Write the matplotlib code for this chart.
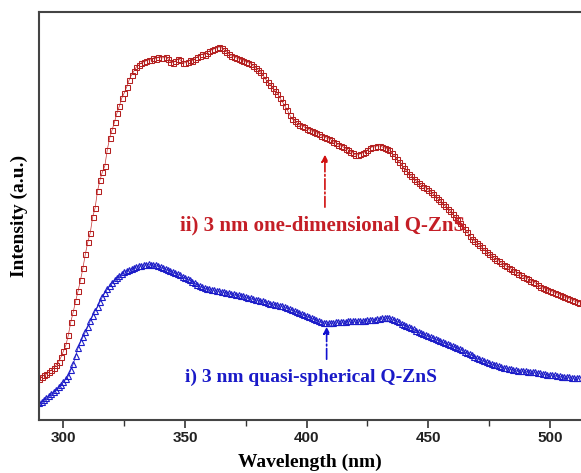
import matplotlib
matplotlib.use("Agg")
import matplotlib.pyplot as plt
from matplotlib.ticker import MultipleLocator
import numpy as np

# red: 3 nm one-dimensional Q-ZnS, 1 nm steps 290..512
wl_red = np.arange(290, 513, 1)
red = [41, 43, 45, 46, 48, 50, 52, 55, 58, 63,
       69, 75, 85, 98, 108, 119, 129, 140, 152, 166,
       178, 187, 203, 212, 229, 240, 248, 254, 270, 282,
       290, 298, 307, 314, 322, 327, 333, 340, 345, 349,
       353, 355, 357, 358, 359, 360, 360, 362, 361, 363,
       362, 362, 363, 361, 358, 357, 359, 361, 360, 357,
       357, 358, 360, 359, 361, 363, 364, 366, 365, 367,
       369, 370, 371, 372, 373, 372, 370, 368, 366, 364,
       363, 362, 361, 360, 359, 358, 357, 356, 354, 352,
       350, 348, 345, 341, 338, 335, 332, 329, 326, 322,
       318, 314, 310, 305, 301, 299, 297, 295, 294, 293,
       291, 290, 289, 288, 287, 286, 284, 283, 282, 281,
       280, 278, 277, 275, 274, 273, 271, 270, 268, 267,
       265, 265, 266, 267, 268, 270, 272, 273, 273, 274,
       274, 273, 272, 271, 270, 267, 264, 261, 258, 255,
       252, 249, 246, 244, 241, 239, 237, 235, 233, 232,
       230, 228, 226, 223, 221, 219, 216, 214, 211, 209,
       206, 203, 200, 197, 194, 191, 188, 184, 181, 179,
       177, 175, 173, 170, 168, 166, 164, 162, 160, 159,
       157, 155, 154, 152, 151, 149, 148, 146, 145, 143,
       142, 141, 139, 138, 137, 135, 133, 132, 131, 130,
       129, 128, 127, 126, 125, 124, 123, 122, 121, 120,
       119, 118, 117]

# blue: 3 nm quasi-spherical Q-ZnS, 1 nm steps 290..512
wl_blue = np.arange(290, 513, 1)
blue = [17, 18, 20, 22, 24, 26, 28, 30, 33, 35,
        38, 41, 44, 50, 56, 64, 72, 78, 83, 88,
        93, 99, 104, 109, 113, 118, 123, 127, 131, 134,
        137, 140, 142, 144, 146, 148, 149, 150, 151, 152,
        153, 154, 154, 155, 155, 156, 155, 155, 155, 154,
        153, 152, 151, 150, 149, 148, 147, 146, 145, 143,
        142, 141, 140, 138, 137, 135, 134, 133, 132, 131,
        131, 130, 130, 129, 129, 128, 128, 127, 127, 126,
        126, 125, 125, 124, 124, 123, 122, 122, 121, 120,
        120, 119, 119, 118, 117, 116, 116, 115, 115, 114,
        114, 113, 112, 111, 110, 109, 108, 107, 106, 105,
        104, 103, 102, 101, 100, 99, 98, 97, 97, 97,
        97, 97, 98, 98, 98, 98, 98, 99, 99, 99,
        99, 99, 99, 99, 99, 100, 100, 100, 100, 101,
        101, 102, 102, 102, 102, 101, 100, 99, 98, 96,
        95, 94, 93, 92, 91, 89, 88, 87, 86, 85,
        84, 83, 82, 81, 80, 79, 78, 77, 76, 75,
        74, 73, 72, 71, 70, 68, 67, 66, 65, 63,
        62, 61, 60, 59, 58, 57, 56, 55, 55, 54,
        53, 52, 52, 51, 51, 50, 50, 49, 49, 49,
        49, 48, 48, 48, 48, 47, 47, 46, 46, 45,
        45, 45, 45, 44, 44, 43, 43, 43, 43, 42,
        42, 42, 42]

xticks = [300, 350, 400, 450, 500]

fig = plt.figure(figsize=(5.81, 4.73), dpi=100)
ax = fig.add_axes([0.067, 0.112, 0.933, 0.863])

ax.plot(wl_red, red, '-', color='#c83030', lw=0.5, marker='s', ms=3.6,
        mfc='none', mec='#b42020', mew=0.75)
ax.plot(wl_blue, blue, '-', color='#2020c0', lw=0.5, marker='^', ms=4,
        mfc='none', mec='#1c1cc8', mew=0.8)

ax.set_xlim(289.9, 512.8)
ax.set_ylim(0, 408)
ax.set_xticks(xticks)
ax.xaxis.set_minor_locator(MultipleLocator(25))
ax.set_yticks([])
ax.tick_params(axis='x', which='major', direction='out', length=6, width=1.2,
               color='#333333', labelsize=11, pad=2)
ax.tick_params(axis='x', which='minor', direction='out', length=4, width=1.0,
               color='#333333')
for lab in ax.get_xticklabels():
    lab.set_fontfamily('Liberation Sans')
    lab.set_fontweight('bold')
    lab.set_color('#222222')

for s in ['left', 'top', 'bottom']:
    ax.spines[s].set_linewidth(1.5)
    ax.spines[s].set_color('#444444')
ax.spines['right'].set_visible(False)

ax.set_xlabel('Wavelength (nm)', fontfamily='Liberation Serif',
              fontweight='bold', fontsize=14, labelpad=6)
ax.set_ylabel('Intensity (a.u.)', fontfamily='Liberation Serif',
              fontweight='bold', fontsize=14, labelpad=8)

ax.text(406.3, 194, 'ii) 3 nm one-dimensional Q-ZnS', color='#c41e26',
        fontfamily='Liberation Serif', fontweight='bold', fontsize=15,
        ha='center', va='center')
ax.text(401.8, 43, 'i) 3 nm quasi-spherical Q-ZnS', color='#1a1ac8',
        fontfamily='Liberation Serif', fontweight='bold', fontsize=14,
        ha='center', va='center')

ax.annotate('', xy=(407.5, 268), xytext=(407.5, 210),
            arrowprops=dict(arrowstyle='-|>', color='#d01010', lw=1.2,
                            linestyle='-.', mutation_scale=10))
ax.annotate('', xy=(408.2, 96), xytext=(408.2, 58),
            arrowprops=dict(arrowstyle='-|>', color='#1010d0', lw=1.2,
                            linestyle='-.', mutation_scale=10))

fig.savefig('out.png', dpi=100)
